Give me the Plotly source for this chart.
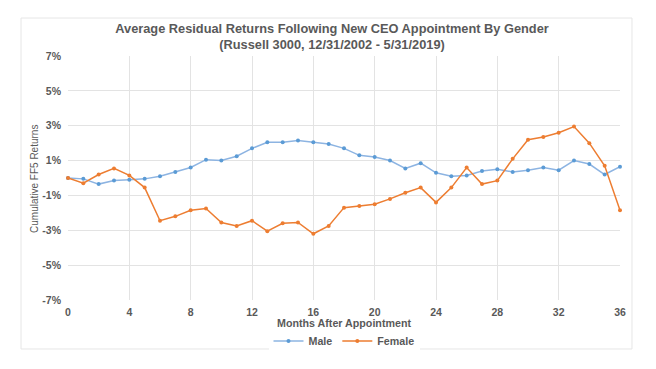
import plotly.graph_objects as go

months = list(range(37))
male = [0.0, -0.05, -0.35, -0.15, -0.1, -0.05, 0.1, 0.35, 0.6, 1.05, 1.0, 1.25, 1.7, 2.05, 2.05, 2.15,
        2.05, 1.95, 1.7, 1.3, 1.2, 1.0, 0.55, 0.85, 0.3, 0.1, 0.15, 0.4, 0.5, 0.35, 0.45, 0.6, 0.45,
        1.0, 0.8, 0.2, 0.65]
female = [0.0, -0.3, 0.2, 0.55, 0.15, -0.55, -2.45, -2.2, -1.85, -1.75, -2.55, -2.75, -2.45, -3.05,
          -2.6, -2.55, -3.2, -2.75, -1.7, -1.6, -1.5, -1.2, -0.85, -0.55, -1.4, -0.55, 0.6, -0.35,
          -0.15, 1.1, 2.2, 2.35, 2.6, 2.95, 2.0, 0.7, -1.85]
y_ticks = [-7, -5, -3, -1, 1, 3, 5, 7]
y_labels = [f"{v}%" for v in y_ticks]
x_ticks = list(range(0, 37, 4))

txt = "#595959"
font = "Liberation Sans, Arial, sans-serif"

fig = go.Figure()
fig.add_trace(go.Scatter(x=months, y=male, name="<b>Male</b>", mode="lines+markers",
                         line=dict(color="#8DB4E2", width=1.5), marker=dict(size=4, color="#5B9BD5"),
                         cliponaxis=False))
fig.add_trace(go.Scatter(x=months, y=female, name="<b>Female</b>", mode="lines+markers",
                         line=dict(color="#ED7D31", width=1.5), marker=dict(size=4, color="#ED7D31"),
                         cliponaxis=False))

fig.update_layout(
    width=648, height=361,
    margin=dict(l=60, r=36, t=48, b=69, autoexpand=False),
    paper_bgcolor="white", plot_bgcolor="white",
    font=dict(family=font, color=txt, size=10),
    title=dict(text="<b>Average Residual Returns Following New CEO Appointment By Gender<br>(Russell 3000, 12/31/2002 - 5/31/2019)</b>",
               x=0.5, xanchor="center", y=0.932, yanchor="middle",
               font=dict(size=12.8, color=txt, family=font)),
    showlegend=True,
    legend=dict(orientation="h", x=0.5, xanchor="center", y=-0.168, yanchor="middle",
                font=dict(size=10.7, color=txt), itemwidth=30, tracegroupgap=0),
    xaxis=dict(range=[0, 36], tickvals=x_ticks, ticktext=[f"<b>{t}</b>" for t in x_ticks],
               showgrid=True, gridcolor="#E3E3E3", zeroline=False,
               showline=False, ticks="", tickfont=dict(size=10.5, color=txt), ticklabelstandoff=4),
    yaxis=dict(range=[-7, 7], tickvals=y_ticks, ticktext=[f"<b>{t}</b>" for t in y_labels], showgrid=True,
               gridcolor="#E3E3E3", zeroline=False, showline=False, ticks="",
               tickfont=dict(size=10.5, color=txt), ticklabelstandoff=6),
    annotations=[
        dict(text="<b>Months After Appointment</b>", xref="paper", yref="paper", x=0.5, y=-0.094,
             xanchor="center", yanchor="middle", showarrow=False, font=dict(size=10.7, color=txt)),
        dict(text="Cumulative FF5 Returns", xref="paper", yref="paper", x=-0.0598, y=0.496,
             xanchor="center", yanchor="middle", textangle=-90, showarrow=False,
             font=dict(size=10, color=txt)),
    ],
    shapes=[dict(type="rect", xref="paper", yref="paper", x0=-0.0851, x1=1.0217, y0=-0.2008, y1=1.1557,
                 line=dict(color="#E6E6E6", width=1), layer="below")],
)

fig.write_html("out.html")
